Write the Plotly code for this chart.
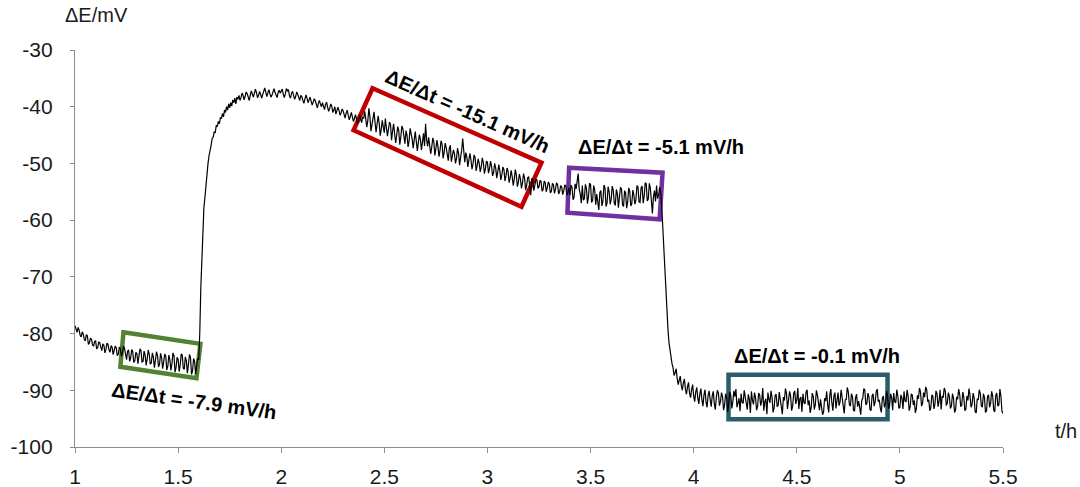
import plotly.graph_objects as go

# Potential record, one reading every 0.005 h starting at t = 1.000 h
t_start = 1.0
t_step = 0.005
dE = [
    # 1.00 - 1.10 h
    -78.6, -79.5, -79.8, -78.9, -79.4, -80.3, -80.6, -79.7, -80.1, -81.0,
    -81.3, -80.2, -80.4, -81.9, -81.6, -80.8, -81.0, -82.0, -82.2, -81.4,
    # 1.10 - 1.20 h
    -81.3, -82.7, -82.5, -81.5, -81.6, -82.4, -83.0, -81.8, -82.0, -83.4,
    -82.8, -81.7, -81.9, -82.9, -83.3, -82.1, -82.4, -83.7, -83.1, -82.2,
    # 1.20 - 1.30 h
    -82.5, -83.9, -83.6, -82.4, -82.7, -84.0, -83.4, -82.2, -82.6, -83.8,
    -84.6, -83.1, -82.9, -84.9, -84.3, -82.8, -83.2, -85.1, -84.8, -83.3,
    # 1.30 - 1.40 h
    -83.5, -85.3, -84.2, -82.7, -83.0, -85.0, -84.9, -83.1, -83.8, -85.6,
    -84.5, -82.9, -83.6, -85.4, -85.2, -83.4, -84.1, -86.0, -84.7, -83.2,
    # 1.40 - 1.50 h
    -83.9, -85.9, -85.4, -83.5, -84.3, -86.2, -85.0, -83.6, -84.0, -86.4,
    -85.8, -83.8, -84.6, -86.5, -85.3, -83.4, -83.9, -86.8, -86.0, -84.2,
    # 1.50 - 1.60 h
    -84.5, -86.7, -85.6, -83.6, -83.8, -86.1, -86.3, -84.1, -84.8, -87.0,
    -85.5, -83.7, -84.2, -87.2, -86.6, -84.4, -84.9, -87.1, -85.7, -84.3,
    # 1.60 - 1.70 h
    -84.6, -80.0, -72.0, -66.0, -60.5, -57.8, -56.0, -53.4, -51.5, -50.0,
    -48.6, -47.2, -46.8, -45.6, -45.4, -44.4, -44.6, -43.3, -43.5, -42.6,
    # 1.70 - 1.80 h
    -43.0, -41.9, -42.1, -41.2, -41.8, -40.6, -41.0, -40.0, -40.6, -39.5,
    -40.2, -39.3, -39.9, -38.8, -39.3, -38.5, -39.5, -38.3, -38.7, -38.0,
    # 1.80 - 1.90 h
    -38.9, -38.4, -37.6, -38.0, -38.8, -38.2, -37.4, -37.7, -38.5, -38.9,
    -37.9, -37.2, -37.8, -38.3, -37.6, -36.9, -37.5, -38.4, -38.0, -37.3,
    # 1.90 - 2.00 h
    -37.8, -38.5, -37.9, -37.1, -36.7, -37.4, -38.2, -37.6, -37.0, -37.7,
    -38.3, -38.0, -37.2, -36.8, -37.5, -37.9, -38.4, -37.5, -37.1, -37.6,
    # 2.00 - 2.10 h
    -37.3, -36.9, -37.8, -38.4, -37.7, -36.8, -37.2, -37.0, -38.1, -38.5,
    -37.6, -37.3, -38.0, -38.7, -38.2, -37.4, -37.8, -38.6, -38.9, -38.0,
    # 2.10 - 2.20 h
    -38.2, -38.9, -39.4, -38.6, -37.9, -38.5, -39.3, -38.8, -38.3, -39.0,
    -39.7, -39.2, -38.6, -38.9, -39.8, -40.2, -39.4, -38.9, -39.5, -40.0,
    # 2.20 - 2.30 h
    -39.3, -39.9, -40.5, -39.6, -39.2, -40.1, -40.8, -40.3, -39.5, -39.9,
    -41.0, -40.6, -40.0, -41.3, -40.7, -40.1, -40.6, -41.5, -41.1, -40.4,
    # 2.30 - 2.40 h
    -40.7, -41.4, -42.0, -41.1, -40.6, -41.5, -42.3, -41.7, -41.0, -41.8,
    -42.6, -42.1, -41.4, -42.2, -43.0, -42.3, -41.5, -42.1, -42.8, -41.9,
    # 2.40 - 2.50 h
    -42.0, -40.8, -41.9, -43.6, -42.4, -40.3, -41.7, -44.3, -43.2, -42.1,
    -40.9, -42.8, -44.5, -43.0, -41.6, -42.9, -45.1, -44.0, -42.4, -43.6,
    # 2.50 - 2.60 h
    -44.6, -42.1, -43.4, -45.2, -44.0, -42.7, -43.1, -45.9, -44.3, -43.0,
    -44.8, -46.4, -45.0, -43.5, -44.2, -46.7, -45.3, -43.4, -43.9, -45.6,
    # 2.60 - 2.70 h
    -46.5, -44.2, -45.0, -47.1, -46.0, -43.8, -44.6, -45.7, -47.3, -45.5,
    -44.4, -46.1, -47.8, -46.3, -44.9, -45.8, -47.6, -46.2, -44.7, -46.9,
    # 2.70 - 2.80 h
    -43.0, -45.8, -47.0, -45.4, -46.6, -48.3, -47.1, -45.5, -46.2, -48.6,
    -47.4, -45.9, -47.0, -48.8, -47.7, -46.0, -46.6, -49.1, -48.0, -46.4,
    # 2.80 - 2.90 h
    -47.2, -48.6, -49.5, -47.4, -46.8, -49.7, -48.5, -47.6, -48.3, -50.0,
    -49.1, -47.3, -48.2, -50.3, -48.9, -47.7, -45.6, -48.4, -49.8, -48.1,
    # 2.90 - 3.00 h
    -48.8, -50.6, -49.7, -48.2, -49.4, -51.0, -50.1, -48.5, -48.9, -51.3,
    -50.4, -49.2, -50.0, -51.5, -50.6, -49.0, -49.8, -51.8, -51.0, -49.6,
    # 3.00 - 3.10 h
    -49.8, -51.7, -50.9, -49.6, -50.5, -52.2, -51.6, -50.0, -50.8, -52.6,
    -51.5, -50.2, -51.3, -52.9, -52.0, -50.6, -51.1, -53.1, -52.2, -50.8,
    # 3.10 - 3.20 h
    -51.4, -53.4, -52.6, -51.2, -52.3, -53.9, -52.8, -51.1, -52.0, -54.1,
    -53.3, -51.9, -52.7, -54.4, -53.4, -51.8, -52.6, -54.7, -53.9, -52.5,
    # 3.20 - 3.30 h
    -52.4, -54.5, -55.6, -52.6, -53.0, -54.8, -53.8, -52.8, -52.9, -54.4,
    -54.1, -53.0, -53.2, -54.9, -54.6, -53.1, -53.4, -55.0, -54.3, -53.3,
    # 3.30 - 3.40 h
    -53.6, -55.2, -54.9, -53.5, -53.8, -55.3, -54.5, -53.4, -53.7, -55.4,
    -55.0, -53.9, -54.1, -55.5, -54.8, -53.8, -54.0, -55.6, -55.2, -54.3,
    # 3.40 - 3.50 h
    -55.6, -53.8, -54.2, -56.4, -56.0, -53.6, -54.5, -52.9, -51.8, -54.6,
    -55.3, -57.0, -53.9, -56.5, -56.2, -53.7, -54.4, -57.1, -55.8, -53.5,
    # 3.50 - 3.60 h
    -53.7, -56.9, -56.5, -53.9, -54.6, -57.3, -55.4, -56.8, -58.2, -55.1,
    -54.8, -57.5, -56.7, -53.8, -54.3, -57.6, -57.0, -54.1, -55.0, -57.2,
    # 3.60 - 3.70 h
    -56.3, -54.0, -54.7, -57.0, -57.4, -54.6, -55.3, -57.8, -56.1, -54.2,
    -54.5, -57.3, -57.6, -54.8, -55.2, -57.9, -56.8, -54.3, -54.9, -57.5,
    # 3.70 - 3.80 h
    -57.1, -54.7, -55.6, -57.2, -56.4, -53.9, -54.2, -56.8, -56.9, -54.3,
    -54.0, -57.0, -55.8, -53.4, -53.6, -56.6, -56.3, -53.5, -54.4, -57.1,
    # 3.80 - 3.90 h
    -58.8, -55.9, -54.8, -56.7, -53.9, -56.2, -55.6, -54.2, -55.0, -57.5,
    -61.5, -65.0, -69.0, -72.8, -76.0, -79.0, -81.5, -83.0, -84.3, -85.3,
    # 3.90 - 4.00 h
    -86.0, -87.4, -86.9, -86.2, -87.9, -89.0, -88.2, -87.5, -89.1, -90.0,
    -88.7, -88.0, -89.8, -90.7, -89.4, -88.6, -90.5, -91.3, -89.9, -89.0,
    # 4.00 - 4.10 h
    -91.0, -92.0, -90.3, -89.5, -91.4, -92.4, -90.6, -89.7, -91.7, -92.8,
    -90.8, -89.9, -92.1, -93.0, -90.9, -90.1, -91.6, -92.9, -91.0, -90.2,
    # 4.10 - 4.20 h
    -92.3, -93.4, -91.2, -90.0, -90.5, -92.7, -92.0, -90.4, -91.1, -93.5,
    -92.6, -90.6, -91.3, -93.8, -92.4, -90.3, -90.9, -93.2, -92.0, -90.1,
    # 4.20 - 4.30 h
    -91.1, -89.8, -93.0, -91.9, -91.4, -93.7, -90.6, -92.1, -92.3, -90.0,
    -91.0, -92.6, -93.4, -90.7, -91.6, -94.0, -90.2, -91.8, -92.5, -90.4,
    # 4.30 - 4.40 h
    -91.3, -93.5, -92.9, -90.5, -90.8, -92.7, -91.9, -89.6, -93.6, -92.0,
    -91.5, -94.2, -90.4, -91.6, -92.2, -90.1, -91.2, -93.9, -93.1, -90.9,
    # 4.40 - 4.50 h
    -90.7, -92.9, -92.6, -90.3, -91.4, -93.1, -94.2, -91.2, -91.8, -89.7,
    -90.5, -93.3, -92.1, -90.2, -91.0, -93.6, -92.8, -90.6, -90.1, -92.4,
    # 4.50 - 4.60 h
    -91.7, -89.6, -93.3, -91.5, -91.2, -93.8, -90.6, -92.2, -92.4, -90.3,
    -89.9, -92.6, -91.8, -94.0, -93.0, -90.5, -91.1, -93.4, -92.5, -90.0,
    # 4.60 - 4.70 h
    -90.8, -92.4, -93.5, -91.6, -92.6, -94.3, -93.8, -91.4, -91.9, -90.2,
    -92.7, -93.9, -90.9, -89.8, -92.2, -93.6, -91.0, -90.4, -93.2, -91.5,
    # 4.70 - 4.80 h
    -90.4, -92.7, -92.0, -89.9, -91.3, -93.2, -94.1, -91.7, -91.6, -89.5,
    -90.3, -92.5, -92.8, -90.6, -91.1, -93.5, -93.7, -91.3, -90.7, -92.9,
    # 4.80 - 4.90 h
    -91.9, -93.0, -94.3, -91.8, -91.4, -89.7, -90.0, -92.6, -92.3, -90.5,
    -91.2, -93.4, -93.6, -91.0, -90.6, -92.8, -92.1, -90.3, -89.8, -92.0,
    # 4.90 - 5.00 h
    -91.7, -93.1, -93.9, -91.4, -91.0, -93.0, -92.4, -90.1, -90.9, -93.3,
    -92.7, -90.6, -91.3, -93.5, -90.5, -92.0, -92.2, -89.9, -91.0, -93.2,
    # 5.00 - 5.10 h
    -93.0, -90.8, -91.4, -93.3, -90.2, -91.9, -92.0, -89.9, -91.1, -93.6,
    -92.9, -90.7, -90.8, -92.6, -91.8, -94.0, -93.2, -90.9, -91.5, -89.6,
    # 5.10 - 5.20 h
    -90.3, -92.8, -92.3, -90.4, -91.2, -89.4, -89.9, -92.0, -91.7, -93.6,
    -93.1, -90.8, -91.0, -93.3, -92.4, -90.1, -90.6, -92.9, -91.9, -89.9,
    # 5.20 - 5.30 h
    -93.4, -91.0, -91.3, -89.6, -90.1, -92.7, -92.2, -90.4, -91.1, -93.2,
    -92.8, -90.6, -91.4, -93.9, -93.5, -91.2, -91.6, -89.8, -90.7, -92.9,
    # 5.30 - 5.40 h
    -92.6, -90.3, -91.2, -93.6, -93.3, -91.0, -91.8, -89.7, -90.9, -93.0,
    -92.5, -90.5, -91.3, -93.8, -94.0, -91.5, -91.7, -89.9, -90.6, -92.8,
    # 5.40 - 5.50 h
    -92.9, -90.6, -91.2, -93.9, -93.6, -91.1, -90.8, -93.0, -92.3, -90.2,
    -91.0, -93.5, -93.8, -90.9, -90.5, -92.8, -92.6, -89.8, -91.1, -93.7,
    -94.1,
]
t = [round(t_start + t_step * i, 3) for i in range(len(dE))]

# Slope labels for the fitted segments
slope_labels = [
    "ΔE/Δt = -7.9 mV/h",
    "ΔE/Δt = -15.1 mV/h",
    "ΔE/Δt = -5.1 mV/h",
    "ΔE/Δt = -0.1 mV/h",
]

x_ticks = [1, 1.5, 2, 2.5, 3, 3.5, 4, 4.5, 5, 5.5]
x_tick_text = ["1", "1.5", "2", "2.5", "3", "3.5", "4", "4.5", "5", "5.5"]
y_ticks = [-100, -90, -80, -70, -60, -50, -40, -30]
y_tick_text = ["-100", "-90", "-80", "-70", "-60", "-50", "-40", "-30"]

FONT = "Liberation Sans, Arial, sans-serif"
AXIS_GREY = "#8c8c8c"

fig = go.Figure()
fig.add_trace(go.Scatter(
    x=t, y=dE, mode="lines",
    line=dict(color="black", width=1.2),
    hoverinfo="skip", showlegend=False,
))


def quad(corners, color):
    path = "M " + " L ".join(f"{x},{y}" for x, y in corners) + " Z"
    return dict(type="path", path=path, xref="x", yref="y",
                line=dict(color=color, width=4.5), layer="below")


shapes = [
    quad([(1.235, -79.77), (1.608, -81.80), (1.589, -87.88), (1.220, -85.86)], "#548235"),
    quad([(2.443, -36.74), (3.262, -49.88), (3.165, -57.64), (2.351, -44.14)], "#C00000"),
    quad([(3.396, -50.76), (3.849, -51.64), (3.835, -59.84), (3.388, -58.69)], "#7030A0"),
    quad([(4.169, -87.27), (4.940, -87.27), (4.940, -95.11), (4.169, -95.11)], "#2A5D69"),
]

label_pos = [(1.575, -91.9, 8), (2.901, -40.8, 24), (3.842, -47.1, 0), (4.598, -84.0, 0)]
annotations = [
    dict(x=x, y=y, xref="x", yref="y", text=f"<b>{txt}</b>", showarrow=False,
         textangle=ang, font=dict(family=FONT, size=20, color="black"))
    for txt, (x, y, ang) in zip(slope_labels, label_pos)
]

# axis titles, placed by pixel position within the page
L, R, T, B, W, H = 75, 77, 50, 40, 1080, 487
for txt, px, py in [("ΔE/mV", 96, 15), ("t/h", 1066, 431)]:
    annotations.append(dict(
        x=(px - L) / (W - L - R), y=1 - (py - T) / (H - T - B),
        xref="paper", yref="paper", xanchor="center", yanchor="middle",
        text=txt, showarrow=False,
        font=dict(family=FONT, size=20, color="#1a1a1a"),
    ))

fig.update_layout(
    width=W, height=H,
    margin=dict(l=L, r=R, t=T, b=B, autoexpand=False),
    paper_bgcolor="white", plot_bgcolor="white",
    font=dict(family=FONT, size=20, color="#1a1a1a"),
    shapes=shapes, annotations=annotations,
    xaxis=dict(range=[1, 5.5], tickvals=x_ticks, ticktext=x_tick_text,
               showgrid=False, zeroline=False, showline=True, linecolor=AXIS_GREY,
               linewidth=1.3, ticks="outside", ticklen=5, tickcolor=AXIS_GREY,
               tickfont=dict(size=21), ticklabelstandoff=6, automargin=False),
    yaxis=dict(range=[-100, -30], tickvals=y_ticks, ticktext=y_tick_text,
               showgrid=False, zeroline=False,
               showline=True, linecolor=AXIS_GREY, linewidth=1.3, ticks="outside",
               ticklen=4, tickcolor=AXIS_GREY, tickfont=dict(size=21),
               ticklabelstandoff=13, automargin=False),
)

fig.write_html("out.html")
